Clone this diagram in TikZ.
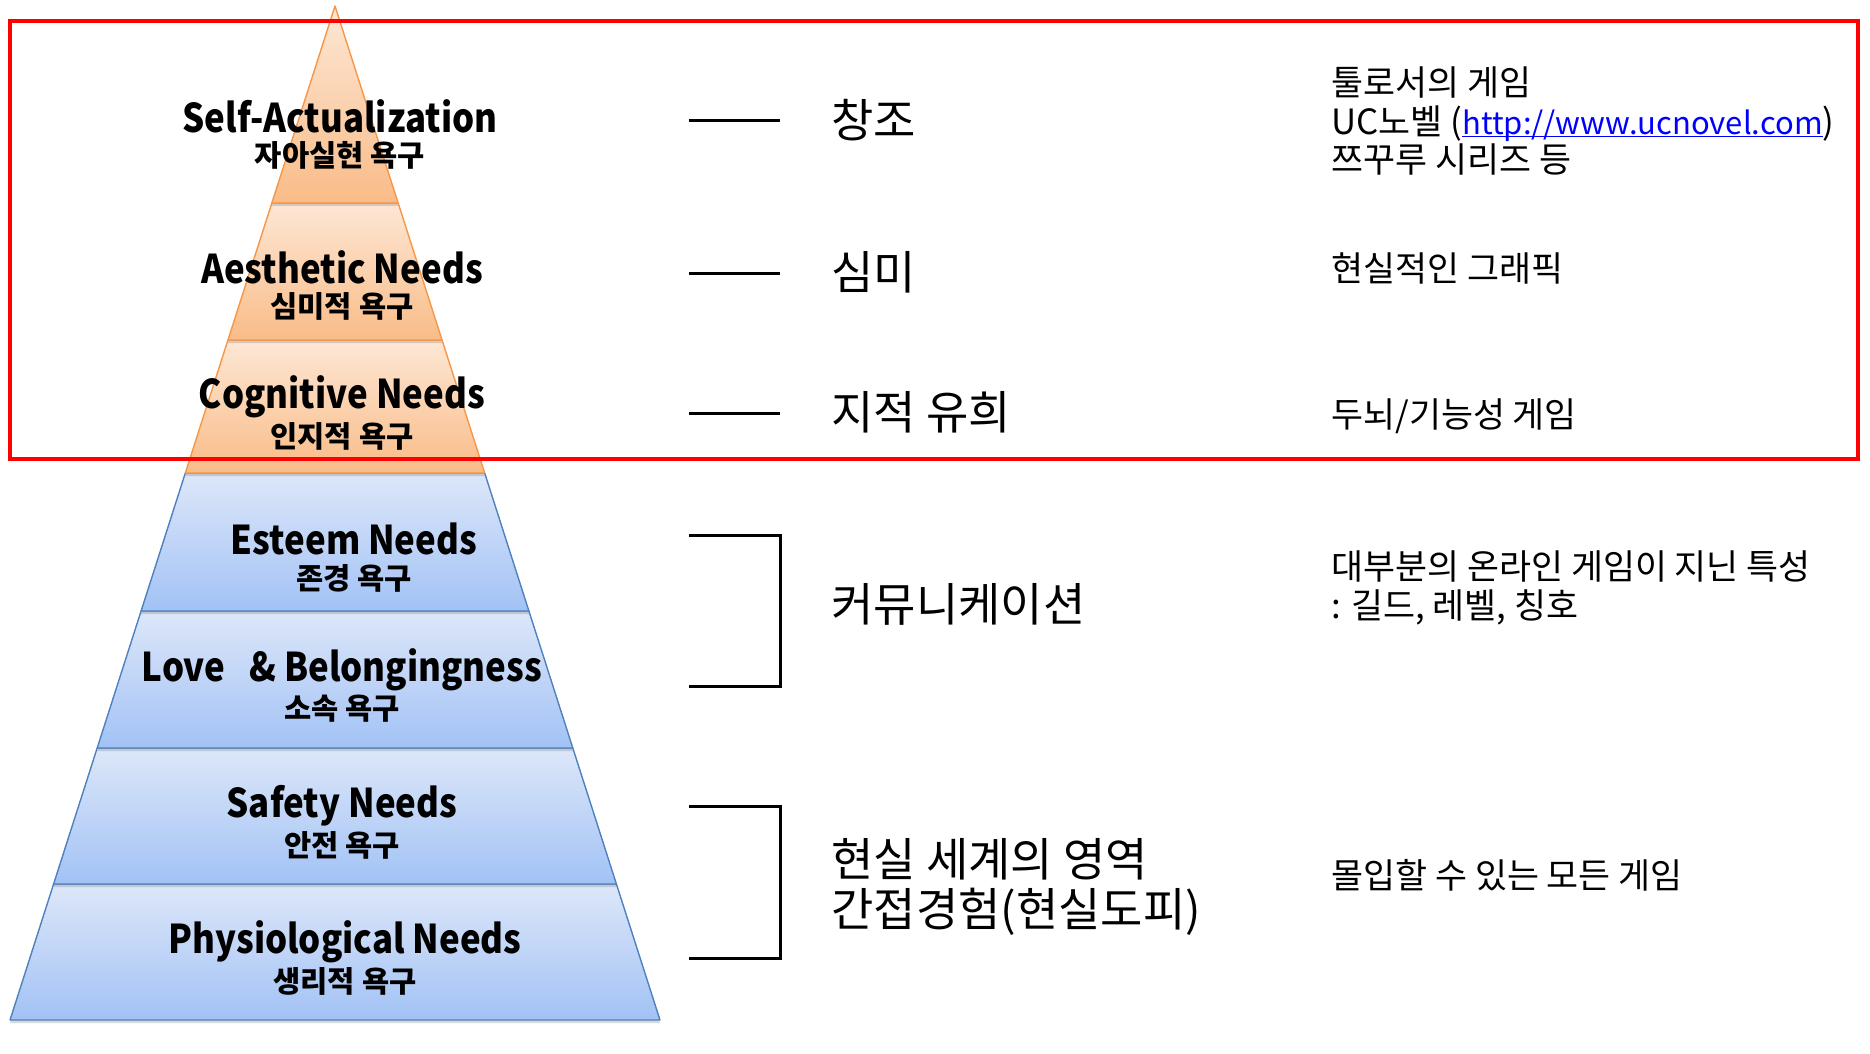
\documentclass[tikz,border=0pt]{standalone}
\usepackage{fontspec}
\setmainfont{Noto Sans CJK KR}
\newfontfamily\needfont[FakeStretch=0.88]{Noto Sans CJK KR}
\usetikzlibrary{shadows}

\definecolor{peachtop}{HTML}{FDE7D5}
\definecolor{peachbot}{HTML}{F9BC88}
\definecolor{peachline}{HTML}{F79646}
\definecolor{skytop}{HTML}{DDE7F9}
\definecolor{skybot}{HTML}{A2C2F5}
\definecolor{skyline}{HTML}{4F81BD}
\definecolor{linkblue}{HTML}{0000FF}

% underline just below the baseline
\newcommand\urlline[1]{\setbox0\hbox{#1}\rlap{\rule[-1.6pt]{\wd0}{0.8pt}}\box0}

\begin{document}
\begin{tikzpicture}[x=0.5pt, y=-0.5pt,
		layer/.style = {line width=0.7pt, line join=round,
			drop shadow={shadow xshift=0pt, shadow yshift=-1.5pt, opacity=0.3}},
		upperlayer/.style = {layer, draw=peachline,
			top color=peachtop, bottom color=peachbot},
		lowerlayer/.style = {layer, draw=skyline,
			top color=skytop, bottom color=skybot},
		need/.style = {inner sep=0pt, font=\needfont\fontsize{19.8}{21}\selectfont\bfseries},
		needkr/.style = {inner sep=0pt, font=\fontsize{14.8}{17}\selectfont\bfseries},
		tag/.style = {anchor=west, align=left, inner sep=0pt,
			font=\fontsize{23}{25}\selectfont},
		note/.style = {anchor=west, align=left, inner sep=0pt,
			font=\fontsize{17.4}{19.4}\selectfont},
		rule/.style = {line width=1.5pt}]
		\useasboundingbox (0,0) rectangle (1870,1054);

		% pyramid, bottom layer first so the shadows fall on the layer below
		\foreach \a/\b/\s in {884/1020/lowerlayer, 748/884/lowerlayer,
				611/748/lowerlayer, 473/611/lowerlayer, 340/473/upperlayer,
				203/340/upperlayer, 6/203/upperlayer}
			\draw[\s] ({335-0.3205*(\a-6)},\a) -- ({335+0.3205*(\a-6)},\a)
				-- ({335+0.3205*(\b-6)},\b) -- ({335-0.3205*(\b-6)},\b) -- cycle;

		\foreach \n/\x/\y/\en/\kr in {
				self/340/116/Self-Actualization/자아실현 욕구,
				aesthetic/342/267/Aesthetic Needs/심미적 욕구,
				cognitive/342/397/Cognitive Needs/인지적 욕구,
				esteem/354/539/Esteem Needs/존경 욕구,
				love/342/670/Love~~~\& Belongingness/소속 욕구,
				safety/342/806/Safety Needs/안전 욕구,
				physio/345/942/Physiological Needs/생리적 욕구}
			{
			\node[need] (\n) at (\x,\y) {\en};
			\node[needkr] (kr\n) at (\x,\y+39) {\kr};
			}

		% marks
		\draw[rule] (689,121) -- (780,121);
		\draw[rule] (689,273) -- (780,273);
		\draw[rule] (689,413) -- (780,413);
		\draw[rule] (689,535) -- (780,535) -- (780,686) -- (689,686);
		\draw[rule] (689,806) -- (780,806) -- (780,958) -- (689,958);

		\node[tag] (create) at (831,120) {창조};
		\node[tag] (beauty) at (831,272) {심미};
		\node[tag] (play) at (831,412) {지적 유희};
		\node[tag] (talk) at (831,604) {커뮤니케이션};
		\node[tag] (escape) at (831,887) {현실 세계의 영역\\간접경험(현실도피)};

		\node[note] (tool) at (1331,121) {툴로서의 게임\\UC노벨 ({\fontsize{15.5}{19.4}\selectfont\color{linkblue}\urlline{http://www.ucnovel.com}})\\쯔꾸루 시리즈 등};
		\node[note] (graphic) at (1331,268) {현실적인 그래픽};
		\node[note] (brain) at (1331,416) {두뇌/기능성 게임};
		\node[note] (online) at (1331,588) {대부분의 온라인 게임이 지닌 특성\\: 길드, 레벨, 칭호};
		\node[note] (immerse) at (1331,875) {몰입할 수 있는 모든 게임};

		\draw[red, line width=2.2pt] (10,21) rectangle (1858,459);
	\end{tikzpicture}
\end{document}
